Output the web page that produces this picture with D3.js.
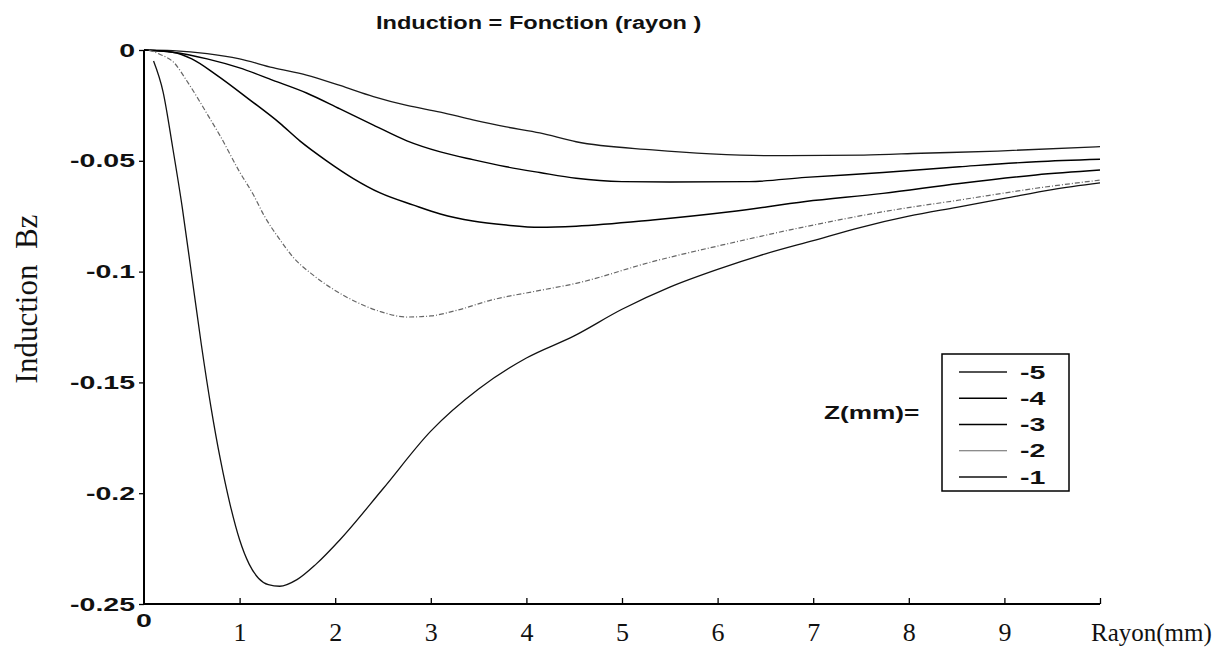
<!DOCTYPE html>
<html>
<head>
<meta charset="utf-8">
<script src="https://cdn.jsdelivr.net/npm/d3@7"></script>
<style>
  html, body { margin: 0; padding: 0; background: #fff; }
  svg { display: block; }
  .sans { font-family: "Liberation Sans", Arial, sans-serif; font-weight: bold; fill: #111; }
  .serif { font-family: "Liberation Serif", "Times New Roman", serif; fill: #111; }
</style>
</head>
<body>
<div id="chart"></div>
<script>
// Z (mm) series shown in the legend, top to bottom
const zValues = [-5, -4, -3, -2, -1];

// rayon (mm) / induction Bz for each Z
const rayonZ5 = [0, 0.3, 0.66, 1.0, 1.35, 1.7, 2.05, 2.4, 2.75, 3.1, 3.44, 3.79, 4.14, 4.52, 5.32, 5.93, 6.53, 7.53, 8.13, 8.93, 10];
const inductionZ5 = [0, -0.0003, -0.0016, -0.004, -0.008, -0.0113, -0.016, -0.021, -0.025, -0.028, -0.0315, -0.0347, -0.0374, -0.0414, -0.0451, -0.0469, -0.0477, -0.0474, -0.0466, -0.0456, -0.0436];

const rayonZ4 = [0, 0.3, 0.66, 1.0, 1.35, 1.7, 2.05, 2.4, 2.75, 3.1, 3.44, 3.79, 4.14, 4.52, 5.0, 5.5, 6.33, 6.92, 7.73, 8.53, 9.33, 10];
const inductionZ4 = [0, -0.001, -0.004, -0.0081, -0.0137, -0.0194, -0.0266, -0.0339, -0.041, -0.046, -0.0495, -0.0527, -0.0553, -0.0579, -0.0594, -0.0596, -0.0594, -0.0575, -0.0553, -0.0527, -0.0504, -0.0493];

const rayonZ3 = [0, 0.3, 0.5, 0.76, 1.11, 1.42, 1.63, 1.91, 2.19, 2.47, 2.82, 3.1, 3.44, 3.79, 4.14, 4.52, 5.32, 6.13, 6.92, 7.73, 8.53, 9.33, 10];
const inductionZ3 = [0, -0.001, -0.004, -0.0113, -0.0226, -0.033, -0.041, -0.05, -0.058, -0.0645, -0.07, -0.074, -0.0772, -0.079, -0.08, -0.0795, -0.0767, -0.073, -0.0684, -0.0647, -0.0602, -0.0564, -0.0542];

const rayonZ2 = [0.05, 0.17, 0.32, 0.44, 0.69, 0.8, 1.0, 1.14, 1.26, 1.42, 1.56, 1.77, 1.98, 2.22, 2.47, 2.75, 3.0, 3.27, 3.62, 4.14, 4.52, 5.32, 6.13, 6.92, 7.73, 8.53, 9.33, 10];
const inductionZ2 = [0, -0.002, -0.006, -0.0134, -0.031, -0.039, -0.055, -0.065, -0.075, -0.0855, -0.0935, -0.1016, -0.108, -0.1137, -0.118, -0.1205, -0.12, -0.1175, -0.113, -0.1085, -0.1053, -0.0955, -0.0872, -0.0797, -0.073, -0.0677, -0.0624, -0.0587];

const rayonZ1 = [0.1, 0.2, 0.3, 0.4, 0.5, 0.6, 0.7, 0.8, 0.9, 1.0, 1.1, 1.2, 1.3, 1.42, 1.6, 1.8, 2.05, 2.5, 3.0, 3.5, 4.0, 4.5, 5.0, 5.5, 6.0, 6.5, 7.0, 7.5, 8.0, 8.5, 9.0, 9.5, 10];
const inductionZ1 = [-0.005, -0.019, -0.044, -0.071, -0.102, -0.133, -0.161, -0.185, -0.205, -0.221, -0.232, -0.2385, -0.2413, -0.242, -0.239, -0.232, -0.221, -0.198, -0.172, -0.153, -0.139, -0.129, -0.117, -0.107, -0.099, -0.092, -0.086, -0.08, -0.075, -0.071, -0.067, -0.063, -0.06];

const xTickValues = [1, 2, 3, 4, 5, 6, 7, 8, 9, 10];
const xTickLabels = ["1", "2", "3", "4", "5", "6", "7", "8", "9", ""];
const yTickValues = [0, -0.05, -0.1, -0.15, -0.2, -0.25];
const yTickLabels = ["0", "-0.05", "-0.1", "-0.15", "-0.2", "-0.25"];

const series = [
    { z: -5, rayon: rayonZ5, induction: inductionZ5 },
    { z: -4, rayon: rayonZ4, induction: inductionZ4 },
    { z: -3, rayon: rayonZ3, induction: inductionZ3 },
    { z: -2, rayon: rayonZ2, induction: inductionZ2 },
    { z: -1, rayon: rayonZ1, induction: inductionZ1 },
];

const lineStyle = {
    "-5": { stroke: "#1a1a1a", width: 1.3, dash: null },
    "-4": { stroke: "#000", width: 1.4, dash: null },
    "-3": { stroke: "#000", width: 1.5, dash: null },
    "-2": { stroke: "#666", width: 1.2, dash: "5,2,1,2" },
    "-1": { stroke: "#111", width: 1.3, dash: null },
};

const width = 1224;
const height = 647;
const SANS_SX = 1.5; // the scanned sans labels are wider than Arial

const svg = d3.select("#chart")
    .append("svg")
    .attr("width", width)
    .attr("height", height);

const x = d3.scaleLinear().domain([0, 10]).range([144, 1100]);
const y = d3.scaleLinear().domain([-0.25, 0]).range([604, 50]);

const sansText = (parent, px, py, label, anchor, sx = SANS_SX) =>
    parent.append("text")
        .attr("class", "sans")
        .attr("transform", `translate(${px},${py}) scale(${sx},1)`)
        .attr("text-anchor", anchor)
        .attr("dy", "0.35em")
        .style("font-size", "19px")
        .text(label);

// title
svg.append("text")
    .attr("class", "sans")
    .attr("transform", "translate(376,29) scale(1.31,1)")
    .style("font-size", "18px")
    .text("Induction = Fonction (rayon )");

// y axis
const yAxis = d3.axisLeft(y).tickValues(yTickValues).tickSize(5).tickFormat(() => "");
svg.append("g")
    .attr("transform", `translate(${x(0)},0)`)
    .call(yAxis)
    .call((g) => {
        g.select(".domain").attr("stroke", "#000").attr("stroke-width", 2).attr("d", `M0,${y(0)}V${y(-0.25)}`);
        g.selectAll(".tick line").attr("stroke", "#000").attr("stroke-width", 1.3);
    });

yTickValues.forEach((v, i) => {
    sansText(svg, x(0) - 9, y(v), yTickLabels[i], "end");
});

// x axis, ticks pointing up into the plot
const xAxis = d3.axisBottom(x).tickValues(xTickValues).tickSize(-6).tickFormat((d, i) => xTickLabels[i]);
svg.append("g")
    .attr("transform", `translate(0,${y(-0.25)})`)
    .call(xAxis)
    .call((g) => {
        g.select(".domain").attr("stroke", "#000").attr("stroke-width", 2).attr("d", `M${x(0)},0H${x(10)}`);
        g.selectAll(".tick line").attr("stroke", "#000").attr("stroke-width", 1.3);
        g.selectAll(".tick text")
            .attr("class", "serif")
            .attr("y", 37)
            .attr("dy", 0)
            .style("font-size", "26px")
            .style("font-family", "'Liberation Serif', 'Times New Roman', serif");
    });

sansText(svg, x(0), 620, "0", "middle");

svg.append("text")
    .attr("class", "serif")
    .attr("x", 1091)
    .attr("y", 641)
    .style("font-size", "25px")
    .text("Rayon(mm)");

// y label
svg.append("text")
    .attr("class", "serif")
    .attr("transform", "translate(37,299) rotate(-90)")
    .attr("text-anchor", "middle")
    .style("font-size", "31px")
    .style("white-space", "pre")
    .text("Induction  Bz");

// curves
const line = d3.line()
    .x((d) => x(d[0]))
    .y((d) => y(d[1]))
    .curve(d3.curveMonotoneX);

svg.append("g")
    .selectAll("path")
    .data(series)
    .enter()
    .append("path")
    .attr("d", (s) => line(s.rayon.map((r, i) => [r, s.induction[i]])))
    .attr("fill", "none")
    .attr("stroke", (s) => lineStyle[s.z].stroke)
    .attr("stroke-width", (s) => lineStyle[s.z].width)
    .attr("stroke-dasharray", (s) => lineStyle[s.z].dash);

// legend
const legendY = d3.scalePoint().domain(zValues).range([372, 477]);
const legend = svg.append("g");

legend.append("rect")
    .attr("x", 942)
    .attr("y", 354)
    .attr("width", 127)
    .attr("height", 137)
    .attr("fill", "#fff")
    .attr("stroke", "#000")
    .attr("stroke-width", 1.5);

zValues.forEach((z) => {
    legend.append("line")
        .attr("x1", 959)
        .attr("x2", 1007)
        .attr("y1", legendY(z))
        .attr("y2", legendY(z))
        .attr("stroke", lineStyle[z].stroke)
        .attr("stroke-width", lineStyle[z].width);
    sansText(legend, 1020, legendY(z), String(z), "start");
});

sansText(svg, 824, 412, "Z(mm)=", "start", 1.38);
</script>
</body>
</html>
